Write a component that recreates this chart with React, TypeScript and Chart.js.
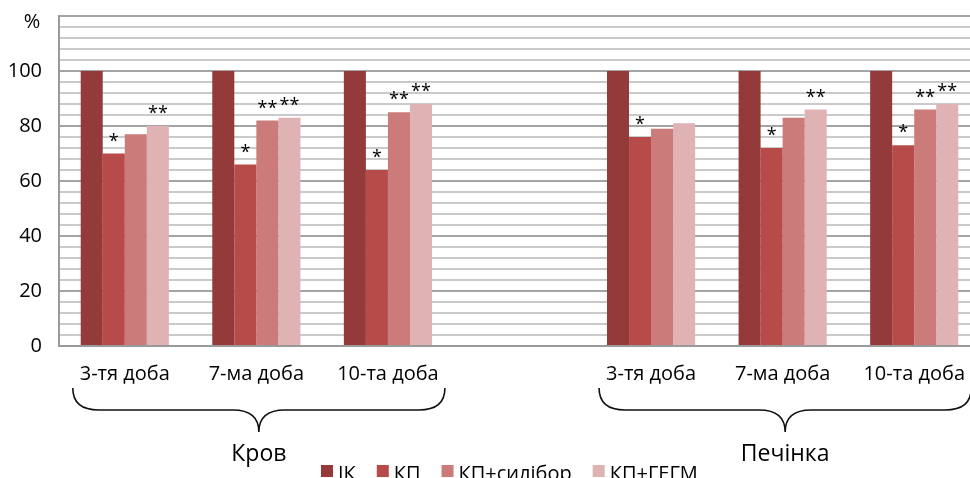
import React, { useEffect, useRef } from "react";
import { Chart, registerables } from "chart.js";

Chart.register(...registerables);

// ---- data ----
const categories = ["3-тя доба", "7-ма доба", "10-та доба", "", "3-тя доба", "7-ма доба", "10-та доба"];
const seriesLabels = ["ІК", "КП", "КП+силібор", "КП+ГЕГМ"];
const ikValues = [100, 100, 100, null, 100, 100, 100];
const kpValues = [70, 66, 64, null, 76, 72, 73];
const silValues = [77, 82, 85, null, 79, 83, 86];
const gegmValues = [80, 83, 88, null, 81, 86, 88];
const ikMarks = ["", "", "", "", "", "", ""];
const kpMarks = ["*", "*", "*", "", "*", "*", "*"];
const silMarks = ["", "**", "**", "", "", "", "**"];
const gegmMarks = ["**", "**", "**", "", "", "**", "**"];
const groupLabels = ["Кров", "Печінка"];
const groupFirst = [0, 4];
const groupLast = [2, 6];
const yMin = 0;
const yMax = 120;
const yStep = 4;
const yLabelStep = 20;
const yLabelMax = 100;
const yUnit = "%";

const colors = ["#953a3b", "#b64b4a", "#cc7b7b", "#dfb3b4"];
const FONT = "'Open Sans', 'Noto Sans', sans-serif";

const W = 980;
const H = 478;

export default function App() {
  const ref = useRef<HTMLCanvasElement>(null);

  useEffect(() => {
    if (!ref.current) return;
    const marks = [ikMarks, kpMarks, silMarks, gegmMarks];

    const extras = {
      id: "extras",
      afterDatasetsDraw(chart: any) {
        const ctx = chart.ctx as CanvasRenderingContext2D;
        const xs = chart.scales.x;
        ctx.save();
        // significance marks
        ctx.fillStyle = "#000";
        ctx.font = `18px ${FONT}`;
        ctx.textAlign = "center";
        ctx.textBaseline = "alphabetic";
        const sp = 10;
        marks.forEach((arr, di) => {
          const meta = chart.getDatasetMeta(di);
          arr.forEach((m, i) => {
            if (!m) return;
            const el = meta.data[i];
            if (!el) return;
            const n = m.length;
            for (let k = 0; k < n; k++) {
              const cx = el.x + (k - (n - 1) / 2) * sp;
              ctx.fillText(m[k], cx, el.y - 7);
            }
          });
        });
        // unit label
        ctx.font = `20px ${FONT}`;
        ctx.textBaseline = "middle";
        ctx.fillText(yUnit, 32, 22);

        // braces + group labels
        ctx.strokeStyle = "#111";
        ctx.lineWidth = 1.6;
        groupLabels.forEach((lab, g) => {
          const L = xs.getPixelForValue(groupFirst[g]) - 52;
          const R = xs.getPixelForValue(groupLast[g]) + 57;
          const M = (L + R) / 2;
          const yTop = 388;
          const yMid = 410;
          const yTip = 432;
          const r = 26;
          ctx.beginPath();
          ctx.moveTo(L, yTop);
          ctx.quadraticCurveTo(L, yMid, L + r, yMid);
          ctx.lineTo(M - r, yMid);
          ctx.quadraticCurveTo(M, yMid, M, yTip);
          ctx.quadraticCurveTo(M, yMid, M + r, yMid);
          ctx.lineTo(R - r, yMid);
          ctx.quadraticCurveTo(R, yMid, R, yTop);
          ctx.stroke();
          ctx.fillStyle = "#000";
          ctx.font = `23px ${FONT}`;
          ctx.textAlign = "center";
          ctx.textBaseline = "alphabetic";
          ctx.fillText(lab, M, 461);
        });

        // legend
        ctx.font = `20px ${FONT}`;
        ctx.textAlign = "left";
        ctx.textBaseline = "alphabetic";
        let x = 321;
        chart.data.datasets.forEach((ds: any) => {
          ctx.fillStyle = ds.backgroundColor;
          ctx.fillRect(x, 465, 12, 12);
          ctx.fillStyle = "#000";
          ctx.fillText(ds.label, x + 17, 480);
          x += 17 + ctx.measureText(ds.label).width + 21;
        });
        ctx.restore();
      },
    };

    const series = [ikValues, kpValues, silValues, gegmValues];
    const chart = new Chart(ref.current, {
      type: "bar",
      data: {
        labels: categories,
        datasets: series.map((d, i) => ({
          label: seriesLabels[i],
          data: d as any,
          backgroundColor: colors[i],
          borderWidth: 0,
          categoryPercentage: 0.67,
          barPercentage: 1,
        })),
      },
      options: {
        responsive: false,
        animation: false,
        devicePixelRatio: 1,
        layout: { padding: { top: 16, left: 0, right: 0, bottom: 0 } },
        plugins: { legend: { display: false }, tooltip: { enabled: false } },
        scales: {
          x: {
            grid: { display: false, drawTicks: false },
            border: { display: true, color: "#9a9a9a", width: 2 },
            ticks: {
              color: "#000",
              font: { family: FONT, size: 20 },
              padding: 16,
              maxRotation: 0,
              autoSkip: false,
            },
            afterFit(scale: any) {
              scale.height = H - 346;
              scale.paddingLeft = 0;
              scale.paddingRight = 0;
            },
          },
          y: {
            min: yMin,
            max: yMax,
            grid: {
              drawTicks: false,
              lineWidth: 2,
              color: (c: any) =>
                c.tick && c.tick.value % yLabelStep === 0 ? "#a4a4a4" : "#cacaca",
            },
            border: { display: true, color: "#9a9a9a", width: 2 },
            ticks: {
              stepSize: yStep,
              autoSkip: false,
              color: "#000",
              font: { family: FONT, size: 20 },
              padding: 17,
              callback: (v: any) =>
                v % yLabelStep === 0 && v <= yLabelMax ? String(v) : "",
            },
            afterFit(scale: any) {
              scale.width = 59;
              scale.paddingTop = 0;
              scale.paddingBottom = 0;
            },
          },
        },
      },
      plugins: [extras],
    });
    return () => chart.destroy();
  }, []);

  return (
    <div
      style={{
        position: "fixed",
        left: 0,
        top: 0,
        width: 970,
        height: 478,
        overflow: "hidden",
        background: "#fff",
      }}
    >
      <canvas ref={ref} width={W} height={H} style={{ width: W, height: H, display: "block" }} />
    </div>
  );
}
